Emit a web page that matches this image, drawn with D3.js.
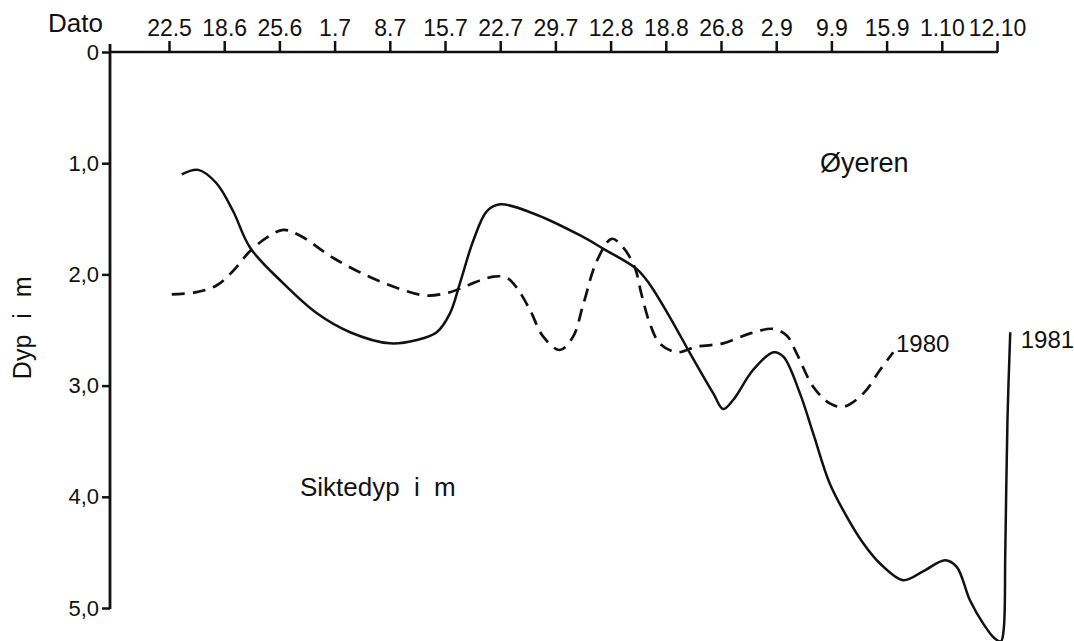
<!DOCTYPE html>
<html>
<head>
<meta charset="utf-8">
<script src="https://cdn.jsdelivr.net/npm/d3@7"></script>
<style>
  body { margin: 0; background: #fff; }
  text { font-family: "Liberation Sans", Arial, Helvetica, sans-serif; fill: #111; }
</style>
</head>
<body>
<svg id="chart" width="1074" height="641"></svg>
<script>
// sampling dates (equally spaced on the axis)
const dates = ["22.5", "18.6", "25.6", "1.7", "8.7", "15.7", "22.7", "29.7",
  "12.8", "18.8", "26.8", "2.9", "9.9", "15.9", "1.10", "12.10"];
const depthTicks = [0, 1, 2, 3, 4, 5];

// 1980 (dashed) - position in date steps, depth in m
const pos1980 = [0.05, 0.5, 0.86, 1.16, 1.47, 1.77, 2.07, 2.37, 2.97, 3.58, 4.18, 4.67,
  5.09, 5.45, 5.88, 6.12, 6.3, 6.54, 6.78, 7.08, 7.32, 7.51, 7.75, 8.02, 8.23, 8.44,
  8.56, 8.71, 8.89, 9.2, 9.56, 10.04, 10.53, 10.95, 11.19, 11.37, 11.67, 11.97,
  12.22, 12.58, 12.88, 13.12];
const depth1980 = [2.18, 2.16, 2.1, 1.97, 1.79, 1.67, 1.6, 1.65, 1.85, 2.01, 2.13, 2.19,
  2.16, 2.09, 2.02, 2.03, 2.12, 2.32, 2.56, 2.68, 2.56, 2.26, 1.88, 1.68, 1.76, 1.94,
  2.18, 2.44, 2.62, 2.7, 2.65, 2.62, 2.53, 2.49, 2.55, 2.71, 3.01, 3.16,
  3.19, 3.07, 2.86, 2.7];

// 1981 (solid)
const pos1981 = [0.23, 0.53, 0.86, 1.16, 1.47, 2.07, 2.68, 3.28, 4.0, 4.49, 4.85, 5.09,
  5.27, 5.51, 5.76, 6.0, 6.59, 7.45, 7.87, 8.47, 8.71, 9.08, 9.44, 9.86, 10.04, 10.22,
  10.58, 10.95, 11.13, 11.43, 11.67, 11.97, 12.28, 12.58, 12.88, 13.3, 13.66, 14.06,
  14.27, 14.51, 14.75, 14.95, 15.07, 15.12, 15.15, 15.19, 15.24];
const depth1981 = [1.1, 1.06, 1.18, 1.43, 1.76, 2.08, 2.35, 2.52, 2.62, 2.59, 2.52, 2.35,
  2.08, 1.7, 1.43, 1.37, 1.45, 1.65, 1.77, 1.95, 2.09, 2.39, 2.71, 3.07, 3.21, 3.13,
  2.86, 2.7, 2.74, 3.07, 3.43, 3.88, 4.18, 4.42, 4.6, 4.75, 4.67, 4.57,
  4.63, 4.93, 5.14, 5.27, 5.3, 5.2, 4.5, 3.3, 2.52];

const svg = d3.select("#chart");

const xLeft = 110, xFirst = 169, xLast = 997;
const x = d3.scalePoint().domain(dates).range([xFirst, xLast]);
const xPos = d3.scaleLinear().domain([0, dates.length - 1]).range([xFirst, xLast]);
const y = d3.scaleLinear().domain([0, 5]).range([52, 608]);

const ink = "#111";

// y axis
const yAxis = d3.axisLeft(y)
  .tickValues(depthTicks)
  .tickSize(8)
  .tickPadding(3)
  .tickFormat(d => d === 0 ? "0" : d.toFixed(1).replace(".", ","));
const gy = svg.append("g").attr("transform", `translate(${xLeft},0)`).call(yAxis);
gy.select(".domain").remove();
gy.selectAll(".tick line").attr("stroke", ink).attr("stroke-width", 2.5);
gy.selectAll(".tick text").style("font-size", "22px").attr("fill", ink);
svg.append("line")
  .attr("x1", xLeft).attr("x2", xLeft)
  .attr("y1", y(0) - 8).attr("y2", y(5) + 1)
  .attr("stroke", ink).attr("stroke-width", 2.8);

// x axis on top
const xAxis = d3.axisTop(x).tickSize(11).tickSizeOuter(0).tickPadding(5);
const gx = svg.append("g").attr("transform", `translate(0,${y(0)})`).call(xAxis);
gx.select(".domain").remove();
gx.selectAll(".tick line").attr("stroke", ink).attr("stroke-width", 2.5);
gx.selectAll(".tick text").style("font-size", "23px").attr("fill", ink);
svg.append("line")
  .attr("x1", xLeft).attr("x2", xLast + 1)
  .attr("y1", y(0)).attr("y2", y(0))
  .attr("stroke", ink).attr("stroke-width", 2.5);

svg.append("text").attr("x", 48).attr("y", 32)
  .style("font-size", "26px").text("Dato");

// y title
svg.append("text")
  .attr("transform", `translate(31,${y(2.48)}) rotate(-90)`)
  .attr("text-anchor", "middle")
  .style("font-size", "25px")
  .style("word-spacing", "9px")
  .text("Dyp i m");

// curves
const line = d3.line()
  .x(d => xPos(d[0]))
  .y(d => y(d[1]))
  .curve(d3.curveCatmullRom.alpha(0.5));

svg.append("path")
  .datum(d3.zip(pos1980, depth1980))
  .attr("d", line)
  .attr("fill", "none")
  .attr("stroke", ink)
  .attr("stroke-width", 2.7)
  .attr("stroke-dasharray", "13 8");

svg.append("path")
  .datum(d3.zip(pos1981, depth1981))
  .attr("d", line)
  .attr("fill", "none")
  .attr("stroke", ink)
  .attr("stroke-width", 2.5);

// labels
svg.append("text").attr("x", xPos(13.17)).attr("y", y(2.7))
  .style("font-size", "24px").text("1980");
svg.append("text").attr("x", xPos(15.43)).attr("y", y(2.66))
  .style("font-size", "24px").text("1981");
svg.append("text").attr("x", 820).attr("y", y(1.08))
  .style("font-size", "27px").text("Øyeren");
svg.append("text").attr("x", 300).attr("y", y(3.99))
  .style("font-size", "26px").style("word-spacing", "7px").text("Siktedyp i m");
</script>
</body>
</html>
